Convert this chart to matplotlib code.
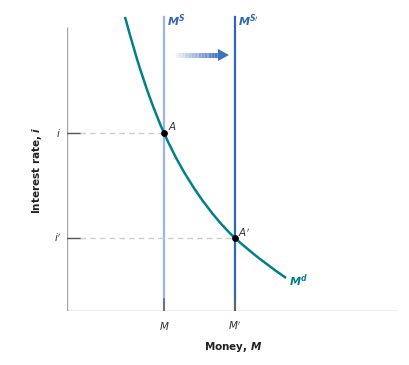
import numpy as np
import matplotlib
matplotlib.use("Agg")
import matplotlib.pyplot as plt
from matplotlib.patches import Polygon, PathPatch
from matplotlib.path import Path
from matplotlib.colors import to_rgb

# money demand curve (money, interest rate)
md_money = [58, 70, 83, 97, 113, 131, 150, 168, 193, 219]
md_rate = [294, 252, 213, 178, 146, 117, 92, 73, 52, 33]

m_supply = 97       # M
m_supply_new = 168  # M'
rate_i = 178        # i
rate_i_new = 73     # i'

x_ticks = [m_supply, m_supply_new]
x_tick_labels = ["$M$", "$M'$"]
y_ticks = [rate_i, rate_i_new]
y_tick_labels = ["$i$", "$i'$"]

light_blue = "#9DB4E4"
dark_blue = "#2F67B1"
teal = "#00808A"
gray = "#A6A6A6"


def smooth_path(xs, ys):
    # catmull-rom through the read points, drawn as bezier segments
    p = np.column_stack([xs, ys]).astype(float)
    verts = [p[0]]
    codes = [Path.MOVETO]
    for k in range(len(p) - 1):
        p0 = p[k - 1] if k > 0 else p[k]
        p3 = p[k + 2] if k + 2 < len(p) else p[k + 1]
        c1 = p[k] + (p[k + 1] - p0) / 6
        c2 = p[k + 1] - (p3 - p[k]) / 6
        verts += [c1, c2, p[k + 1]]
        codes += [Path.CURVE4] * 3
    return Path(verts, codes)


fig = plt.figure(figsize=(4.1, 3.65), dpi=100)
ax = fig.add_axes([67/410, 54/365, 331/410, 311/365])
ax.set_xlim(0, 331)
ax.set_ylim(0, 311)
ax.axis("off")

# axes lines
ax.plot([0, 0], [0, 284], color=gray, lw=1, solid_capstyle="butt")
ax.plot([0, 331], [0, 0], color=gray, lw=1, solid_capstyle="butt")

# supply lines
ax.plot([m_supply, m_supply], [0, 294], color=light_blue, lw=1.6)
ax.plot([m_supply_new, m_supply_new], [0, 294], color=dark_blue, lw=1.6)

# small ticks
for x in x_ticks:
    ax.plot([x, x], [0, 12], color="#666666", lw=1.2)
for y in y_ticks:
    ax.plot([0, 13], [y, y], color="#555555", lw=1.0)

# dashed guide lines
ax.plot([13, m_supply], [rate_i, rate_i], color="#CCCCCC", lw=1, ls=(0, (4, 3)))
ax.plot([13, m_supply_new], [rate_i_new, rate_i_new], color="#CCCCCC", lw=1, ls=(0, (4, 3)))

# demand curve
ax.add_patch(PathPatch(smooth_path(md_money, md_rate), facecolor="none",
                       edgecolor=teal, lw=1.8, zorder=3))

# points
ax.scatter([m_supply, m_supply_new], [rate_i, rate_i_new], s=15, color="black", zorder=4)
ax.text(m_supply + 4, rate_i + 3, "$A$", fontsize=7.5, color="#333333")
ax.text(m_supply_new + 3, rate_i_new + 1, "$A'$", fontsize=7.5, color="#333333")

# tick labels
for x, lab in zip(x_ticks, x_tick_labels):
    ax.text(x, -15, lab, fontsize=7.5, ha="center", va="center", color="#333333")
for y, lab in zip(y_ticks, y_tick_labels):
    ax.text(-9, y, lab, fontsize=7.5, ha="center", va="center", color="#333333")

# curve labels
ax.text(m_supply + 3, 282, r"$\boldsymbol{M}^{\boldsymbol{S}}$", fontsize=8, color=dark_blue, va="bottom")
ax.text(m_supply_new + 3, 282, r"$\boldsymbol{M}^{\boldsymbol{S}\prime}$", fontsize=8, color=dark_blue, va="bottom")
ax.text(222, 30, r"$\boldsymbol{M}^{\boldsymbol{d}}$", fontsize=8, color=teal, va="center")

# gradient arrow
shaft_start, shaft_end, head_end, arrow_y = 108, 151, 162, 256
steps = 30
c0, c1 = np.array(to_rgb("#F4F6FB")), np.array(to_rgb("#3F72BE"))
edges = np.linspace(shaft_start, shaft_end, steps + 1)
for k in range(steps):
    c = c0 + (c1 - c0) * (k / (steps - 1))
    ax.plot([edges[k], edges[k + 1] + 0.5], [arrow_y, arrow_y], color=c, lw=3.6,
            solid_capstyle="butt")
ax.add_patch(Polygon([[shaft_end, arrow_y + 6], [head_end, arrow_y], [shaft_end, arrow_y - 6]],
                     closed=True, color="#3F72BE", lw=0))

# axis titles
fig.text(233/410, 1 - 347/365, "Money, $\\boldsymbol{M}$", fontsize=7.5, fontweight="bold",
         ha="center", va="center", color="#222222")
fig.text(37/410, 1 - 170/365, "Interest rate, $\\boldsymbol{i}$", fontsize=7.5, fontweight="bold",
         ha="center", va="center", rotation=90, color="#222222")

plt.savefig("out.png", dpi=100)
